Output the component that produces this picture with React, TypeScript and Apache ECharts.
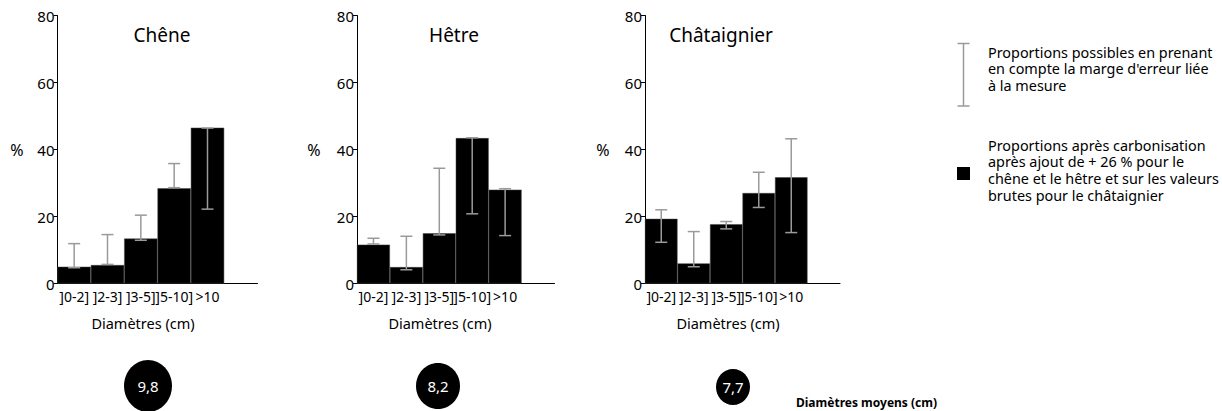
import React, { useEffect, useRef } from "react";
import * as echarts from "echarts";

const categories = ["]0-2]", "]2-3]", "]3-5]", "]5-10]", ">10", ""];
const yTicks = [0, 20, 40, 60, 80];

const speciesNames = ["Chêne", "Hêtre", "Châtaignier"];

const cheneValues = [5.0, 5.5, 13.4, 28.4, 46.5];
const cheneErrLow = [4.7, 5.7, 12.9, 28.6, 22.2];
const cheneErrHigh = [11.9, 14.6, 20.4, 35.8, 46.4];

const hetreValues = [11.6, 4.9, 15.0, 43.4, 28.0];
const hetreErrLow = [11.8, 4.1, 14.5, 20.8, 14.3];
const hetreErrHigh = [13.5, 14.1, 34.4, 43.5, 28.3];

const chataignierValues = [19.3, 6.0, 17.7, 27.0, 31.7];
const chataignierErrLow = [12.3, 5.0, 16.3, 22.7, 15.2];
const chataignierErrHigh = [22.0, 15.5, 18.5, 33.2, 43.2];

const meanDiameters = ["9,8", "8,2", "7,7"];

const legendErrLines = [
  "Proportions possibles en prenant",
  "en compte la marge d'erreur liée",
  "à la mesure",
];
const legendBarLines = [
  "Proportions après carbonisation",
  "après ajout de + 26 % pour le",
  "chêne et le hêtre et sur les valeurs",
  "brutes pour le châtaignier",
];

const FONT = "Noto Sans";
const ERR_COLOR = "#9a9a9a";

export default function App() {
  const ref = useRef<HTMLDivElement>(null);
  useEffect(() => {
    if (!ref.current) return;
    const chart = echarts.init(ref.current, null, { renderer: "svg" });

    const gridDefs = [
      { left: 57.5, width: 200 },
      { left: 357, width: 197.5 },
      { left: 645, width: 195 },
    ];
    const valueSets = [cheneValues, hetreValues, chataignierValues];
    const lowSets = [cheneErrLow, hetreErrLow, chataignierErrLow];
    const highSets = [cheneErrHigh, hetreErrHigh, chataignierErrHigh];

    const grids = gridDefs.map((g) => ({
      left: g.left,
      width: g.width,
      top: 15.5,
      height: 268,
    }));

    const xAxes = gridDefs.map((_, i) => ({
      type: "category",
      gridIndex: i,
      data: categories,
      axisLine: { show: true, lineStyle: { color: "#000", width: 1 } },
      axisTick: { show: false },
      axisLabel: {
        interval: 0,
        color: "#000",
        fontSize: 14,
        fontFamily: FONT,
        margin: 6,
      },
    }));

    const yAxes = gridDefs.map((_, i) => ({
      type: "value",
      gridIndex: i,
      min: yTicks[0],
      max: yTicks[yTicks.length - 1],
      interval: 20,
      axisLine: { show: true, lineStyle: { color: "#000", width: 1 } },
      axisTick: { show: true, length: 4, lineStyle: { color: "#000" } },
      axisLabel: { color: "#000", fontSize: 15, fontFamily: FONT, margin: 3 },
      splitLine: { show: false },
    }));

    const series: any[] = [];
    valueSets.forEach((vals, i) => {
      series.push({
        type: "bar",
        xAxisIndex: i,
        yAxisIndex: i,
        data: vals,
        barCategoryGap: "0%",
        itemStyle: { color: "#000", borderColor: "#444", borderWidth: 0.5 },
        z: 2,
      });
      series.push({
        type: "custom",
        xAxisIndex: i,
        yAxisIndex: i,
        z: 5,
        data: vals.map((_, j) => [j, lowSets[i][j], highSets[i][j]]),
        encode: { x: 0, y: [1, 2] },
        renderItem: (params: any, api: any) => {
          const x = api.value(0);
          const lo = api.coord([x, api.value(1)]);
          const hi = api.coord([x, api.value(2)]);
          const half = 6;
          const style = { stroke: ERR_COLOR, lineWidth: 1.5 };
          return {
            type: "group",
            children: [
              { type: "line", shape: { x1: lo[0], y1: lo[1], x2: hi[0], y2: hi[1] }, style },
              { type: "line", shape: { x1: lo[0] - half, y1: lo[1], x2: lo[0] + half, y2: lo[1] }, style },
              { type: "line", shape: { x1: hi[0] - half, y1: hi[1], x2: hi[0] + half, y2: hi[1] }, style },
            ],
          };
        },
      });
    });

    const txt = (text: string, x: number, y: number, size: number, align = "center", weight = "normal", fill = "#000") => ({
      type: "text",
      x,
      y,
      style: {
        text,
        fill,
        font: `${weight} ${size}px "${FONT}"`,
        textAlign: align,
        textVerticalAlign: "middle",
      },
      z: 10,
    });

    const titleX = [162, 454, 721];
    const pctX = [17, 314, 603];
    const xNameX = [143, 440, 728];
    const graphics: any[] = [];
    speciesNames.forEach((n, i) => {
      graphics.push(txt(n, titleX[i], 35, 19));
      graphics.push(txt("%", pctX[i], 150, 16));
      graphics.push(txt("Diamètres (cm)", xNameX[i], 323, 14.5));
    });

    // legend: error bar icon
    const ex = 963.5;
    const eStyle = { stroke: ERR_COLOR, lineWidth: 1.5 };
    graphics.push({ type: "line", shape: { x1: ex, y1: 43.5, x2: ex, y2: 106 }, style: eStyle });
    graphics.push({ type: "line", shape: { x1: ex - 6, y1: 43.5, x2: ex + 6, y2: 43.5 }, style: eStyle });
    graphics.push({ type: "line", shape: { x1: ex - 6, y1: 106, x2: ex + 6, y2: 106 }, style: eStyle });
    legendErrLines.forEach((l, k) => graphics.push(txt(l, 988, 52 + k * 16.7, 14.4, "left")));
    graphics.push({ type: "rect", shape: { x: 957, y: 167, width: 13, height: 13 }, style: { fill: "#000" } });
    legendBarLines.forEach((l, k) => graphics.push(txt(l, 988, 145 + k * 16.9, 14.4, "left")));

    // mean diameter circles
    const circ = [
      { cx: 148, cy: 386, rx: 24, ry: 26 },
      { cx: 438, cy: 386, rx: 22, ry: 23 },
      { cx: 733, cy: 387, rx: 17, ry: 18 },
    ];
    meanDiameters.forEach((d, i) => {
      const c = circ[i];
      graphics.push({ type: "ellipse", shape: c, style: { fill: "#000" }, z: 9 });
      graphics.push(txt(d, c.cx, c.cy, 15, "center", "normal", "#fff"));
    });
    graphics.push(txt("Diamètres moyens (cm)", 796, 402, 12, "left", "bold"));

    chart.setOption({
      animation: false,
      backgroundColor: "#fff",
      grid: grids,
      xAxis: xAxes,
      yAxis: yAxes,
      series,
      graphic: graphics,
    });
    return () => chart.dispose();
  }, []);
  return (
    <div
      ref={ref}
      style={{ position: "fixed", left: 0, top: 0, width: 1222, height: 411 }}
    />
  );
}
